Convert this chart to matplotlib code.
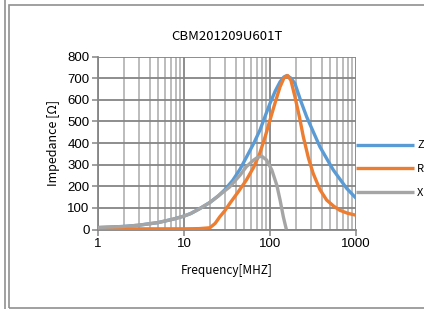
import matplotlib
matplotlib.use("Agg")
import matplotlib.pyplot as plt
from matplotlib.patches import Rectangle
from matplotlib.lines import Line2D
from matplotlib.ticker import LogLocator, NullFormatter, FixedLocator

# Datos (frecuencia en MHz, impedancia en ohm)
freq_z = [1, 2, 3, 5, 7.5, 10, 12, 15, 20, 25, 30, 37, 45, 53.5, 65, 76.5, 88, 100,
          115, 131, 145, 157, 175, 195, 230, 267, 320, 381, 450, 545, 650, 780, 1000]
z_vals = [9, 14, 20, 32, 48, 62, 74, 95, 125, 155, 185, 228, 280, 336, 400, 460, 525, 583,
          640, 683, 705, 712, 700, 675, 590, 521, 450, 382, 332, 275, 233, 190, 145]

freq_r = [1, 5, 10, 15, 20, 23, 26, 30, 34, 42, 53, 65, 76, 88, 100, 115, 131, 145, 160,
          175, 195, 220, 244, 280, 318, 380, 456, 550, 648, 800, 1000]
r_vals = [3, 3, 3, 4, 8, 28, 58, 88, 120, 170, 228, 290, 352, 430, 506, 588, 660, 700, 712,
          690, 614, 520, 429, 330, 259, 185, 136, 108, 89, 75, 66]

freq_x = [1, 2, 3, 5, 7.5, 10, 12, 15, 20, 25, 34, 45, 53, 64, 72, 80, 91, 105, 120, 131,
          143, 155]
x_vals = [9, 14, 20, 32, 48, 62, 74, 95, 125, 155, 197, 252, 290, 320, 334, 339, 322, 275,
          205, 136, 58, 0]

series = [("Z", freq_z, z_vals, "#5B9BD5"),
          ("R", freq_r, r_vals, "#ED7D31"),
          ("X", freq_x, x_vals, "#A5A5A5")]

y_ticks = [0, 100, 200, 300, 400, 500, 600, 700, 800]
x_ticks = [1, 10, 100, 1000]
x_labels = ["1", "10", "100", "1000"]

cjk = ["Noto Sans CJK JP", "DejaVu Sans"]
tick_font = "Liberation Sans"

fig = plt.figure(figsize=(4.24, 3.09), dpi=100)
W, H = 424, 309

# marco exterior
fig.patches.append(Rectangle((8.5 / W, 1 - 308 / H), 1.2, (308 - 5) / H,
                             transform=fig.transFigure, fill=False,
                             edgecolor="#909090", lw=1.2))
fig.lines.append(Line2D([4.5 / W, 4.5 / W], [0, 1], transform=fig.transFigure,
                        color="#909090", lw=1.2))

ax = fig.add_axes([98 / W, 1 - 229.5 / H, (356 - 98) / W, (229.5 - 56.5) / H])

for name, f, v, c in series:
    ax.plot(f, v, color=c, lw=2.4, label=name, solid_capstyle="butt", zorder=3)

ax.set_xscale("log")
ax.set_xlim(1, 1000)
ax.set_ylim(0, 800)
ax.set_yticks(y_ticks)
ax.xaxis.set_major_locator(FixedLocator(x_ticks))
ax.set_xticklabels(x_labels)
ax.xaxis.set_minor_locator(LogLocator(base=10, subs=range(2, 10)))
ax.xaxis.set_minor_formatter(NullFormatter())

ax.grid(True, which="major", color="#858585", lw=1.3)
ax.grid(True, which="minor", axis="x", color="#b0b0b0", lw=1.2)
ax.set_axisbelow(True)

for s in ["top", "right"]:
    ax.spines[s].set_visible(False)
for s in ["left", "bottom"]:
    ax.spines[s].set_color("#858585")
    ax.spines[s].set_linewidth(1.3)

ax.tick_params(axis="both", which="major", length=4, width=1.1, color="#858585",
               labelsize=9.5, pad=2)
ax.tick_params(axis="x", which="minor", length=0)
for lab in ax.get_xticklabels() + ax.get_yticklabels():
    lab.set_family(tick_font)

ax.set_title("CBM201209U601T", family=cjk, fontsize=9.5, pad=12)
ax.set_xlabel("Frequency[MHZ]", family=cjk, fontsize=8.5, labelpad=10)
ax.set_ylabel("Impedance [Ω]", family=cjk, fontsize=9, labelpad=5)

ax.legend(loc="center left", bbox_to_anchor=(1.0, 0.348), frameon=False,
          handlelength=5.2, handletextpad=0.3, labelspacing=1.25,
          borderpad=0, borderaxespad=0, prop={"family": cjk, "size": 8})

fig.savefig("out.png", dpi=100)
